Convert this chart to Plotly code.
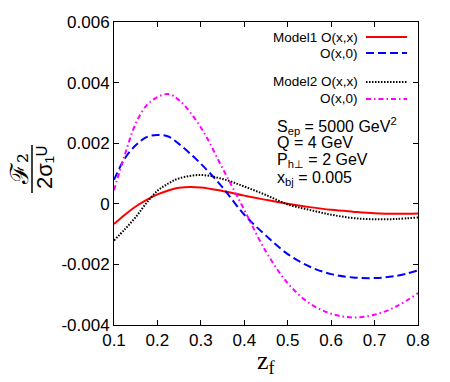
import plotly.graph_objects as go

# ---------------- data ----------------
z_f = [0.10, 0.125, 0.15, 0.175, 0.20, 0.225, 0.25, 0.30, 0.35, 0.40, 0.45,
       0.50, 0.55, 0.60, 0.65, 0.70, 0.75, 0.80]
model1_xx = [-0.67, -0.36, -0.09, 0.13, 0.31, 0.44, 0.53, 0.54, 0.42, 0.27, 0.13,
             0.00, -0.11, -0.20, -0.26, -0.31, -0.33, -0.32]
model1_x0 = [0.79, 1.50, 1.93, 2.20, 2.27, 2.22, 1.97, 1.32, 0.54, -0.36, -1.05,
             -1.66, -2.07, -2.32, -2.43, -2.45, -2.38, -2.20]
model2_xx = [-1.21, -0.84, -0.44, 0.03, 0.43, 0.67, 0.84, 0.95, 0.82, 0.57, 0.29,
             -0.02, -0.20, -0.36, -0.47, -0.51, -0.50, -0.45]
model2_x0 = [0.45, 1.62, 2.65, 3.25, 3.52, 3.62, 3.42, 2.52, 1.17, -0.20, -1.58,
             -2.62, -3.28, -3.63, -3.75, -3.66, -3.39, -2.95]
scale = 1e-3

x_ticks = [0.1, 0.2, 0.3, 0.4, 0.5, 0.6, 0.7, 0.8]
x_ticktext = ["0.1", "0.2", "0.3", "0.4", "0.5", "0.6", "0.7", "0.8"]
y_ticks = [-0.004, -0.002, 0.0, 0.002, 0.004, 0.006]
y_ticktext = ["-0.004", "-0.002", "0", "0.002", "0.004", "0.006"]

legend_labels = ["Model1 O(x,x)", "O(x,0)", "Model2 O(x,x)", "O(x,0)"]
info_lines = ["S<sub>ep</sub> = 5000 GeV<sup>2</sup>", "Q = 4 GeV",
              "P<sub>h\u22a5</sub> = 2 GeV", "x<sub>bj</sub> = 0.005"]

# ---------------- styles ----------------
W, H = 450, 382
L, R, T, B = 114, 418, 22, 325
styles = [
    dict(color="#ff0000", width=2, dash="solid"),
    dict(color="#0000ff", width=2, dash="8px,4px"),
    dict(color="#000000", width=2, dash="1.5px,1.5px"),
    dict(color="#ff00ff", width=2, dash="5px,3px,1.5px,3px"),
]
series = [model1_xx, model1_x0, model2_xx, model2_x0]

def px(x):
    return (x - L) / (R - L)

def py(y):
    return (B - y) / (B - T)

fig = go.Figure()
for s, st, name in zip(series, styles, legend_labels):
    fig.add_trace(go.Scatter(x=z_f, y=[v * scale for v in s], mode="lines",
                             line=dict(shape="spline", smoothing=1.0, **st),
                             name=name, showlegend=False, hoverinfo="skip"))

font = "Liberation Sans, Arial, sans-serif"
annotations = []
shapes = []
# legend
leg_y = [37, 53, 82, 99]
for lab, yy, st in zip(legend_labels, leg_y, styles):
    annotations.append(dict(x=px(360), y=py(yy), xref="paper", yref="paper",
                            text=lab, showarrow=False, xanchor="right",
                            yanchor="middle", font=dict(size=13.5, color="black", family=font)))
    shapes.append(dict(type="line", xref="paper", yref="paper",
                       x0=px(366), x1=px(407), y0=py(yy), y1=py(yy),
                       line=dict(color=st["color"], width=st["width"], dash=st["dash"])))
# info text
info_y = [126, 142, 160, 178]
for txt, yy in zip(info_lines, info_y):
    annotations.append(dict(x=px(275), y=py(yy), xref="paper", yref="paper",
                            text=txt, showarrow=False, xanchor="left",
                            yanchor="middle", font=dict(size=16, color="black", family=font)))
# y-axis title (fraction)
annotations.append(dict(x=px(19), y=py(169), xref="paper", yref="paper",
                        text="\u2131\u2082", showarrow=False, textangle=-90,
                        xanchor="center", yanchor="middle",
                        font=dict(size=25, color="black", family="DejaVu Serif, serif")))
annotations.append(dict(x=px(45), y=py(168), xref="paper", yref="paper",
                        text="2\u03c3\u2081\u1d41", showarrow=False, textangle=-90,
                        xanchor="center", yanchor="middle",
                        font=dict(size=22, color="black", family=font)))
shapes.append(dict(type="line", xref="paper", yref="paper",
                   x0=px(32), x1=px(32), y0=py(145), y1=py(193),
                   line=dict(color="black", width=1.5)))
# x-axis title
annotations.append(dict(x=px(266), y=py(362), xref="paper", yref="paper",
                        text="z<sub>f</sub>", showarrow=False, xanchor="center",
                        yanchor="middle",
                        font=dict(size=26, color="black", family="Liberation Serif, Times New Roman, serif")))

axis_common = dict(showline=True, linecolor="black", linewidth=1, mirror="allticks",
                   ticks="inside", ticklen=5, tickcolor="black", showgrid=False,
                   zeroline=False, automargin=False,
                   tickfont=dict(size=17, color="black", family=font))
fig.update_layout(
    width=W, height=H,
    margin=dict(l=L, r=W - R, t=T, b=H - B),
    paper_bgcolor="white", plot_bgcolor="white",
    xaxis=dict(range=[0.1, 0.8], tickvals=x_ticks, ticktext=x_ticktext, **axis_common),
    yaxis=dict(range=[-0.004, 0.006], tickvals=y_ticks, ticktext=y_ticktext, **axis_common),
    annotations=annotations, shapes=shapes, showlegend=False,
)
fig.write_html("out.html", config={"displayModeBar": False},
               post_script="document.body.style.margin='0';document.body.style.padding='0';")
